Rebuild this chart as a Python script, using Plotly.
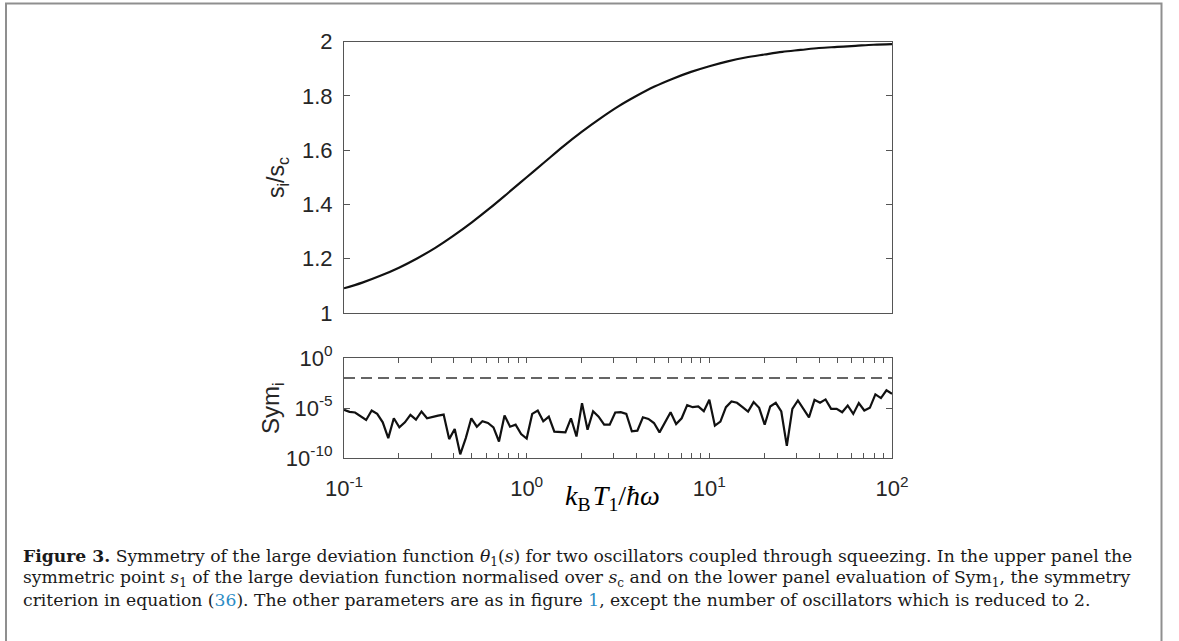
import numpy as np
import plotly.graph_objects as go

W, H = 1179, 641

# ---------------- data ----------------
# upper panel: s_i / s_c versus k_B T_1 / hbar omega
upper_x = [0.1, 0.126, 0.158, 0.2, 0.251, 0.316, 0.398, 0.501, 0.631, 0.794,
           1.0, 1.26, 1.58, 2.0, 2.51, 3.16, 3.98, 5.01, 6.31, 7.94,
           10.0, 12.6, 15.8, 20.0, 25.1, 31.6, 39.8, 50.1, 63.1, 79.4, 100.0]
upper_y = [1.091, 1.112, 1.137, 1.167, 1.201, 1.240, 1.285, 1.334, 1.387, 1.443,
           1.500, 1.557, 1.613, 1.667, 1.715, 1.760, 1.799, 1.834, 1.863, 1.888,
           1.909, 1.927, 1.941, 1.952, 1.962, 1.969, 1.976, 1.980, 1.984, 1.988, 1.990]

# lower panel: Sym_i (log10 values), 100 log-spaced temperatures
lower_x = np.logspace(-1, 2, 100)
sym_log10 = [-5.19, -5.39, -5.45, -5.86, -6.20, -5.25, -5.59, -6.43, -8.01, -6.03,
             -6.94, -6.43, -5.69, -6.16, -5.35, -6.03, -5.86, -5.76, -5.66, -8.11,
             -7.10, -9.63, -8.01, -6.03, -6.87, -6.33, -6.50, -6.94, -8.35, -5.76,
             -6.87, -6.67, -7.61, -8.05, -5.59, -5.25, -6.33, -5.86, -7.37, -7.41,
             -7.44, -6.03, -7.85, -4.51, -7.17, -5.32, -5.86, -6.67, -6.67, -5.45,
             -5.42, -5.59, -7.34, -7.27, -5.93, -6.09, -6.50, -7.44, -6.36, -5.42,
             -6.60, -6.03, -4.71, -4.92, -4.85, -5.32, -4.18, -6.77, -6.36, -4.92,
             -4.34, -4.48, -4.92, -5.35, -4.41, -4.98, -6.67, -4.85, -4.48, -5.35,
             -8.79, -5.08, -4.24, -5.08, -5.93, -4.18, -4.48, -4.14, -5.08, -5.08,
             -5.42, -4.75, -5.59, -4.51, -5.25, -4.98, -3.64, -4.01, -3.23, -3.57]
sym_vals = [10 ** v for v in sym_log10]
threshold = 1e-2
x_range = [0.1, 100]

upper_yticks = [1, 1.2, 1.4, 1.6, 1.8, 2]
upper_yticktext = ["1", "1.2", "1.4", "1.6", "1.8", "2"]
lower_xticks = [0.1, 1, 10, 100]
lower_xticktext = ["10<sup>-1</sup>", "10<sup>0</sup>", "10<sup>1</sup>", "10<sup>2</sup>"]
lower_xminor = [m * d for d in (0.1, 1, 10) for m in range(2, 10)]
lower_yticks = [1, 1e-5, 1e-10]
lower_yticktext = ["10<sup>0</sup>", "10<sup>-5</sup>", "10<sup>-10</sup>"]

caption_lines = [
    "<b>Figure 3.</b> Symmetry of the large deviation function <i>θ</i><sub>1</sub>(<i>s</i>) for two oscillators coupled through squeezing. In the upper panel the",
    "symmetric point <i>s</i><sub>1</sub> of the large deviation function normalised over <i>s</i><sub>c</sub> and on the lower panel evaluation of Sym<sub>1</sub>, the symmetry",
    "criterion in equation (<span style='color:#2b8cc4'>36</span>). The other parameters are as in figure <span style='color:#2b8cc4'>1</span>, except the number of oscillators which is reduced to 2.",
]

# ---------------- geometry (pixels) ----------------
X0, X1 = 344, 892
U_TOP, U_BOT = 41.5, 313
L_TOP, L_BOT = 358, 458


def px_x(p):
    return p / W


def px_y(p):
    return 1 - p / H


AX_COL = "#555555"
TXT_COL = "#262626"
TICK_FONT = dict(family="Liberation Sans, Arial, sans-serif", size=22, color=TXT_COL)

fig = go.Figure()
fig.add_trace(go.Scatter(x=upper_x, y=upper_y, mode="lines", line=dict(color="#111111", width=2.2, shape="spline"),
                         xaxis="x", yaxis="y", showlegend=False))
fig.add_trace(go.Scatter(x=list(x_range), y=[threshold, threshold], mode="lines",
                         line=dict(color="#333333", width=1.3, dash="11px,6px"),
                         xaxis="x2", yaxis="y2", showlegend=False))
fig.add_trace(go.Scatter(x=lower_x, y=sym_vals, mode="lines", line=dict(color="#111111", width=2.2),
                         xaxis="x2", yaxis="y2", showlegend=False))

common_line = dict(showline=True, linecolor=AX_COL, linewidth=1, showgrid=False, zeroline=False, automargin=False)

fig.update_layout(
    template="none",
    width=W, height=H,
    margin=dict(l=0, r=0, t=0, b=0, pad=0, autoexpand=False),
    paper_bgcolor="white", plot_bgcolor="white",
    xaxis=dict(domain=[px_x(X0), px_x(X1)], anchor="y", type="log", range=[-1, 2],
               showticklabels=False, ticks="", mirror=True, **common_line),
    yaxis=dict(domain=[px_y(U_BOT), px_y(U_TOP)], anchor="x", range=[1, 2],
               tickmode="array", tickvals=upper_yticks, ticktext=upper_yticktext, ticks="inside", ticklen=6,
               tickcolor=AX_COL, tickfont=TICK_FONT, ticklabelstandoff=6, mirror="ticks", **common_line),
    xaxis2=dict(domain=[px_x(X0), px_x(X1)], anchor="y2", type="log", range=[-1, 2],
                tickmode="array", tickvals=lower_xticks, ticktext=lower_xticktext, ticks="inside", ticklen=5,
                tickcolor=AX_COL, tickfont=TICK_FONT, ticklabelstandoff=11,
                minor=dict(tickmode="array", tickvals=lower_xminor, ticks="inside", ticklen=5,
                           tickcolor=AX_COL, showgrid=False),
                mirror="allticks", **common_line),
    yaxis2=dict(domain=[px_y(L_BOT), px_y(L_TOP)], anchor="x2", type="log", range=[-10, 0],
                tickmode="array", tickvals=lower_yticks, ticktext=lower_yticktext, ticks="inside", ticklen=6,
                tickcolor=AX_COL, tickfont=TICK_FONT, ticklabelstandoff=6, mirror="ticks", **common_line),
)

annotations = [
    dict(text="s<sub>i</sub>/s<sub>c</sub>", x=px_x(277), y=px_y(178), xref="paper", yref="paper",
         textangle=-90, showarrow=False, xanchor="center", yanchor="middle",
         font=dict(family="Liberation Sans, Arial, sans-serif", size=23, color=TXT_COL)),
    dict(text="Sym<sub>i</sub>", x=px_x(272), y=px_y(408), xref="paper", yref="paper",
         textangle=-90, showarrow=False, xanchor="center", yanchor="middle",
         font=dict(family="Liberation Sans, Arial, sans-serif", size=24, color=TXT_COL)),
    dict(text="<i>k</i><sub>B</sub>\u200a<i>T</i><sub>1</sub>/<i>ħω</i>", x=px_x(612), y=px_y(497),
         xref="paper", yref="paper", showarrow=False, xanchor="center", yanchor="middle",
         font=dict(family="Liberation Serif, Times New Roman, serif", size=28, color="black")),
]
for i, line in enumerate(caption_lines):
    annotations.append(dict(text=line, x=px_x(21), y=px_y(557 + 21.5 * i), xref="paper", yref="paper",
                            showarrow=False, xanchor="left", yanchor="middle", align="left",
                            font=dict(family="DejaVu Serif, serif", size=17.2, color="#1a1a1a")))
fig.update_layout(annotations=annotations)

fig.add_shape(type="rect", xref="paper", yref="paper", x0=px_x(6), x1=px_x(1161.5), y0=-0.05, y1=px_y(3.5),
              line=dict(color="#8f8f8f", width=2), fillcolor="rgba(0,0,0,0)", layer="above")

fig.write_html("out.html", config={"displayModeBar": False},
               post_script="document.body.style.margin='0';document.body.style.overflow='hidden';")
